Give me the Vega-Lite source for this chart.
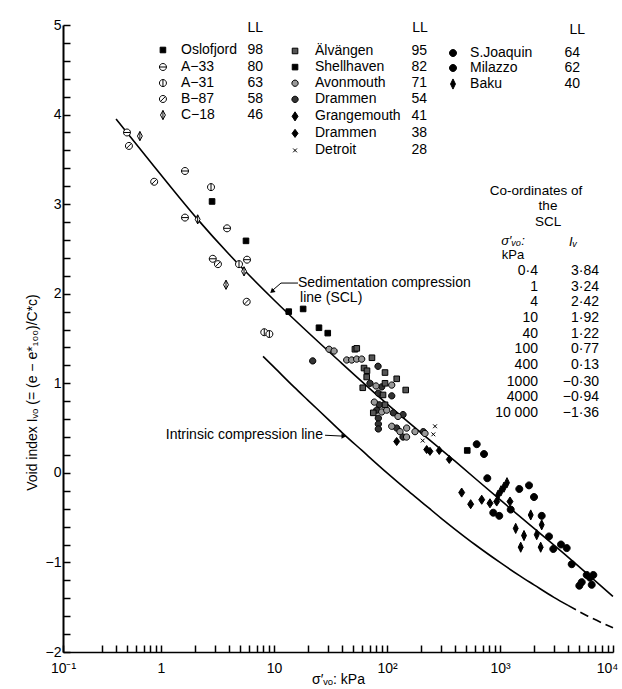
{
  "$schema": "https://vega.github.io/schema/vega-lite/v6.json",
  "width": 550,
  "height": 627,
  "autosize": "none",
  "padding": {"left": 63, "top": 25, "right": 9, "bottom": 37},
  "background": "white",
  "config": {"view": {"stroke": null}, "font": "Liberation Sans"},
  "datasets": {
    "lines": [
      {"id": "SCL", "x": 0.4, "y": 3.95}, {"id": "SCL", "x": 0.87, "y": 3.42}, {"id": "SCL", "x": 2.11, "y": 2.83},
      {"id": "SCL", "x": 4, "y": 2.44}, {"id": "SCL", "x": 10, "y": 1.93}, {"id": "SCL", "x": 40, "y": 1.22},
      {"id": "SCL", "x": 100, "y": 0.77}, {"id": "SCL", "x": 400, "y": 0.13}, {"id": "SCL", "x": 1000, "y": -0.30},
      {"id": "SCL", "x": 4000, "y": -0.94}, {"id": "SCL", "x": 10000, "y": -1.38},
      {"id": "ICL", "x": 8, "y": 1.30}, {"id": "ICL", "x": 10, "y": 1.18}, {"id": "ICL", "x": 15, "y": 0.96},
      {"id": "ICL", "x": 20, "y": 0.81}, {"id": "ICL", "x": 30, "y": 0.60}, {"id": "ICL", "x": 40, "y": 0.45},
      {"id": "ICL", "x": 60, "y": 0.25}, {"id": "ICL", "x": 100, "y": 0.0}, {"id": "ICL", "x": 150, "y": -0.19},
      {"id": "ICL", "x": 200, "y": -0.32}, {"id": "ICL", "x": 300, "y": -0.505}, {"id": "ICL", "x": 400, "y": -0.63},
      {"id": "ICL", "x": 600, "y": -0.80}, {"id": "ICL", "x": 1000, "y": -1.0}, {"id": "ICL", "x": 1500, "y": -1.15},
      {"id": "ICL", "x": 2000, "y": -1.25}, {"id": "ICL", "x": 3000, "y": -1.39}, {"id": "ICL", "x": 4000, "y": -1.48},
      {"id": "ICLd", "x": 4000, "y": -1.48}, {"id": "ICLd", "x": 6000, "y": -1.60}, {"id": "ICLd", "x": 10000, "y": -1.73}
    ],
    "lead": [
      {"g": "scl", "x": 16.3, "y": 2.119}, {"g": "scl", "x": 11.53, "y": 2.119}, {"g": "scl", "x": 9.78, "y": 2.041},
      {"g": "icl", "x": 28.3, "y": 0.42}, {"g": "icl", "x": 40.8, "y": 0.41}
    ],
    "headScl": [{"x": 9.6, "y": 2.025}],
    "headIcl": [{"x": 41.5, "y": 0.41}],
    "pts": [
      {"s": "A-33", "x": 0.50, "y": 3.80}, {"s": "A-33", "x": 1.63, "y": 3.37}, {"s": "A-33", "x": 1.63, "y": 2.85},
      {"s": "A-33", "x": 3.84, "y": 2.73}, {"s": "A-33", "x": 2.87, "y": 2.39}, {"s": "A-33", "x": 5.77, "y": 2.38},
      {"s": "C-18", "x": 0.65, "y": 3.76}, {"s": "C-18", "x": 2.11, "y": 2.83}, {"s": "C-18", "x": 5.43, "y": 2.25},
      {"s": "C-18", "x": 3.76, "y": 2.10},
      {"s": "B-87", "x": 0.52, "y": 3.65}, {"s": "B-87", "x": 0.87, "y": 3.25}, {"s": "B-87", "x": 3.19, "y": 2.33},
      {"s": "B-87", "x": 5.73, "y": 1.91},
      {"s": "A-31", "x": 2.77, "y": 3.19}, {"s": "A-31", "x": 4.90, "y": 2.33}, {"s": "A-31", "x": 8.2, "y": 1.57},
      {"s": "A-31", "x": 9.1, "y": 1.55},
      {"s": "Oslofjord", "x": 2.83, "y": 3.03}, {"s": "Oslofjord", "x": 5.65, "y": 2.59}, {"s": "Oslofjord", "x": 13.5, "y": 1.80},
      {"s": "Shellhaven", "x": 18.1, "y": 1.83}, {"s": "Shellhaven", "x": 25, "y": 1.62}, {"s": "Shellhaven", "x": 29.9, "y": 1.56},
      {"s": "Shellhaven", "x": 513, "y": 0.25},
      {"s": "Drammen54", "x": 22, "y": 1.25}, {"s": "Drammen54", "x": 83.3, "y": 1.19}, {"s": "Drammen54", "x": 70.7, "y": 1.00},
      {"s": "Drammen54", "x": 89.8, "y": 0.96}, {"s": "Drammen54", "x": 83.8, "y": 0.89}, {"s": "Drammen54", "x": 110.1, "y": 0.86},
      {"s": "Drammen54", "x": 85.5, "y": 0.76}, {"s": "Drammen54", "x": 81.1, "y": 0.70}, {"s": "Drammen54", "x": 83.8, "y": 0.61},
      {"s": "Drammen54", "x": 83.8, "y": 0.545}, {"s": "Drammen54", "x": 83.8, "y": 0.49}, {"s": "Drammen54", "x": 113.7, "y": 0.67},
      {"s": "Drammen54", "x": 138.6, "y": 0.65}, {"s": "Drammen54", "x": 121.8, "y": 0.50}, {"s": "Drammen54", "x": 138.6, "y": 0.40},
      {"s": "Drammen54", "x": 209.5, "y": 0.46},
      {"s": "Avonmouth", "x": 30.7, "y": 1.38}, {"s": "Avonmouth", "x": 34, "y": 1.36}, {"s": "Avonmouth", "x": 44, "y": 1.26},
      {"s": "Avonmouth", "x": 48.7, "y": 1.26}, {"s": "Avonmouth", "x": 53.9, "y": 1.27}, {"s": "Avonmouth", "x": 59.7, "y": 1.27},
      {"s": "Avonmouth", "x": 79.9, "y": 0.97}, {"s": "Avonmouth", "x": 110.1, "y": 0.98}, {"s": "Avonmouth", "x": 77.2, "y": 0.79},
      {"s": "Avonmouth", "x": 89.8, "y": 0.68}, {"s": "Avonmouth", "x": 99.4, "y": 0.70}, {"s": "Avonmouth", "x": 125.1, "y": 0.63},
      {"s": "Avonmouth", "x": 110.1, "y": 0.52}, {"s": "Avonmouth", "x": 130.3, "y": 0.46}, {"s": "Avonmouth", "x": 149.3, "y": 0.50},
      {"s": "Avonmouth", "x": 176.9, "y": 0.46}, {"s": "Avonmouth", "x": 216.8, "y": 0.44}, {"s": "Avonmouth", "x": 149, "y": 0.40},
      {"s": "Älvängen", "x": 52, "y": 1.38}, {"s": "Älvängen", "x": 54, "y": 1.39}, {"s": "Älvängen", "x": 73.6, "y": 1.285},
      {"s": "Älvängen", "x": 62.6, "y": 1.17}, {"s": "Älvängen", "x": 66.5, "y": 1.14}, {"s": "Älvängen", "x": 96, "y": 1.12},
      {"s": "Älvängen", "x": 121.9, "y": 1.05}, {"s": "Älvängen", "x": 146.4, "y": 0.925}, {"s": "Älvängen", "x": 66.1, "y": 1.07},
      {"s": "Älvängen", "x": 61.0, "y": 0.95}, {"s": "Älvängen", "x": 96.0, "y": 1.00}, {"s": "Älvängen", "x": 92.2, "y": 0.87},
      {"s": "Älvängen", "x": 96.0, "y": 0.76}, {"s": "Älvängen", "x": 75.6, "y": 0.67},
      {"s": "Detroit", "x": 266, "y": 0.52}, {"s": "Detroit", "x": 257, "y": 0.43}, {"s": "Detroit", "x": 207, "y": 0.36},
      {"s": "Drammen38", "x": 121.8, "y": 0.35}, {"s": "Drammen38", "x": 224.5, "y": 0.26}, {"s": "Drammen38", "x": 240, "y": 0.24},
      {"s": "Drammen38", "x": 290, "y": 0.25}, {"s": "Drammen38", "x": 355.8, "y": 0.15},
      {"s": "S.Joaquin", "x": 622, "y": 0.32}, {"s": "S.Joaquin", "x": 722, "y": 0.21}, {"s": "S.Joaquin", "x": 772, "y": -0.06},
      {"s": "S.Joaquin", "x": 1482, "y": -0.18}, {"s": "S.Joaquin", "x": 1806, "y": -0.14}, {"s": "S.Joaquin", "x": 2000, "y": -0.27},
      {"s": "Grangemouth", "x": 458, "y": -0.22}, {"s": "Grangemouth", "x": 550, "y": -0.35}, {"s": "Grangemouth", "x": 689, "y": -0.30},
      {"s": "Grangemouth", "x": 815, "y": -0.34}, {"s": "Grangemouth", "x": 935, "y": -0.32}, {"s": "Grangemouth", "x": 1226, "y": -0.32},
      {"s": "Baku", "x": 960, "y": -0.25}, {"s": "Baku", "x": 1021, "y": -0.20}, {"s": "Baku", "x": 1084, "y": -0.16},
      {"s": "Baku", "x": 1153, "y": -0.11}, {"s": "Baku", "x": 1870, "y": -0.47}, {"s": "Baku", "x": 2339, "y": -0.58},
      {"s": "Baku", "x": 1377, "y": -0.62}, {"s": "Baku", "x": 1631, "y": -0.70}, {"s": "Baku", "x": 2113, "y": -0.69},
      {"s": "Baku", "x": 1525, "y": -0.83}, {"s": "Baku", "x": 2291, "y": -0.83},
      {"s": "Milazzo", "x": 872, "y": -0.445}, {"s": "Milazzo", "x": 985, "y": -0.48}, {"s": "Milazzo", "x": 1244, "y": -0.41},
      {"s": "Milazzo", "x": 2339, "y": -0.48}, {"s": "Milazzo", "x": 2714, "y": -0.71}, {"s": "Milazzo", "x": 2963, "y": -0.85},
      {"s": "Milazzo", "x": 3466, "y": -0.80}, {"s": "Milazzo", "x": 3892, "y": -0.84}, {"s": "Milazzo", "x": 4310, "y": -1.02},
      {"s": "Milazzo", "x": 5849, "y": -1.14}, {"s": "Milazzo", "x": 6699, "y": -1.14}, {"s": "Milazzo", "x": 5286, "y": -1.22},
      {"s": "Milazzo", "x": 6480, "y": -1.25}, {"s": "Milazzo", "x": 5034, "y": -1.26}, {"s": "Milazzo", "x": 6260, "y": -1.17}
    ],
    "leg": [
      {"s": "Oslofjord", "x": 1.04, "y": 4.721}, {"s": "A-33", "x": 1.04, "y": 4.531}, {"s": "A-31", "x": 1.04, "y": 4.352},
      {"s": "B-87", "x": 1.04, "y": 4.174}, {"s": "C-18", "x": 1.04, "y": 3.995},
      {"s": "Älvängen", "x": 15.35, "y": 4.71}, {"s": "Shellhaven", "x": 15.35, "y": 4.53}, {"s": "Avonmouth", "x": 15.35, "y": 4.35},
      {"s": "Drammen54", "x": 15.35, "y": 4.17}, {"s": "Grangemouth", "x": 15.35, "y": 3.98}, {"s": "Drammen38", "x": 15.35, "y": 3.79},
      {"s": "Detroit", "x": 15.35, "y": 3.60},
      {"s": "S.Joaquin", "x": 383.7, "y": 4.687}, {"s": "Milazzo", "x": 383.7, "y": 4.52}, {"s": "Baku", "x": 383.7, "y": 4.341}
    ],
    "tl": [
      {"t": "Oslofjord", "x": 1.503, "y": 4.721}, {"t": "A−33", "x": 1.503, "y": 4.531}, {"t": "A−31", "x": 1.503, "y": 4.352},
      {"t": "B−87", "x": 1.503, "y": 4.174}, {"t": "C−18", "x": 1.503, "y": 3.995},
      {"t": "Älvängen", "x": 23.05, "y": 4.71}, {"t": "Shellhaven", "x": 23.05, "y": 4.53}, {"t": "Avonmouth", "x": 23.05, "y": 4.35},
      {"t": "Drammen", "x": 23.05, "y": 4.17}, {"t": "Grangemouth", "x": 23.05, "y": 3.98}, {"t": "Drammen", "x": 23.05, "y": 3.79},
      {"t": "Detroit", "x": 23.05, "y": 3.60},
      {"t": "S.Joaquin", "x": 543, "y": 4.687}, {"t": "Milazzo", "x": 543, "y": 4.52}, {"t": "Baku", "x": 543, "y": 4.341},
      {"t": "Sedimentation compression", "x": 16.3, "y": 2.119}, {"t": "line (SCL)", "x": 17.0, "y": 1.952}
    ],
    "tr": [
      {"t": "LL", "x": 7.99, "y": 4.966}, {"t": "98", "x": 7.99, "y": 4.721}, {"t": "80", "x": 7.99, "y": 4.531},
      {"t": "63", "x": 7.99, "y": 4.352}, {"t": "58", "x": 7.99, "y": 4.174}, {"t": "46", "x": 7.99, "y": 3.995},
      {"t": "LL", "x": 230, "y": 4.966}, {"t": "95", "x": 226, "y": 4.71}, {"t": "82", "x": 226, "y": 4.53},
      {"t": "71", "x": 226, "y": 4.35}, {"t": "54", "x": 226, "y": 4.17}, {"t": "41", "x": 226, "y": 3.98},
      {"t": "38", "x": 226, "y": 3.79}, {"t": "28", "x": 226, "y": 3.60},
      {"t": "LL", "x": 5654, "y": 4.944}, {"t": "64", "x": 5105, "y": 4.687}, {"t": "62", "x": 5105, "y": 4.52},
      {"t": "40", "x": 5105, "y": 4.341},
      {"t": "0·4", "x": 2168, "y": 2.253}, {"t": "1", "x": 2168, "y": 2.074}, {"t": "4", "x": 2168, "y": 1.907},
      {"t": "10", "x": 2168, "y": 1.728}, {"t": "40", "x": 2168, "y": 1.55}, {"t": "100", "x": 2168, "y": 1.382},
      {"t": "400", "x": 2168, "y": 1.204}, {"t": "1000", "x": 2168, "y": 1.014}, {"t": "4000", "x": 2168, "y": 0.847},
      {"t": "10 000", "x": 2168, "y": 0.669},
      {"t": "3·84", "x": 7516, "y": 2.253}, {"t": "3·24", "x": 7516, "y": 2.074}, {"t": "2·42", "x": 7516, "y": 1.907},
      {"t": "1·92", "x": 7516, "y": 1.728}, {"t": "1·22", "x": 7516, "y": 1.55}, {"t": "0·77", "x": 7516, "y": 1.382},
      {"t": "0·13", "x": 7516, "y": 1.204}, {"t": "−0·30", "x": 7516, "y": 1.014}, {"t": "−0·94", "x": 7516, "y": 0.847},
      {"t": "−1·36", "x": 7516, "y": 0.669},
      {"t": "Intrinsic compression line", "x": 27.1, "y": 0.422}
    ],
    "tc": [
      {"t": "Co-ordinates of", "x": 2083, "y": 3.150}, {"t": "the", "x": 2660, "y": 2.979},
      {"t": "SCL", "x": 2660, "y": 2.805}
    ],
    "tcs": [
      {"t": "kPa", "x": 1303, "y": 2.430}
    ],
    "ti": [
      {"t": "σ′ᵥₒ:", "x": 1303, "y": 2.590}, {"t": "Iᵥ", "x": 4426, "y": 2.580}
    ]
  },
  "encoding": {
    "x": {
      "field": "x", "type": "quantitative",
      "scale": {"type": "log", "domain": [0.1357, 10000], "nice": false},
      "axis": {
        "values": [0.1357, 0.3, 0.4, 0.5, 0.6, 0.7, 0.8, 0.9, 1, 2, 3, 4, 5, 6, 7, 8, 9, 10, 20, 30, 40, 50, 60, 70, 80, 90, 100, 200, 300, 400, 500, 600, 700, 800, 900, 1000, 2000, 3000, 4000, 5000, 6000, 7000, 8000, 9000, 10000],
        "labelExpr": "datum.value < 0.2 ? '10⁻¹' : datum.value == 1 ? '1' : datum.value == 10 ? '10' : datum.value == 100 ? '10²' : datum.value == 1000 ? '10³' : datum.value == 10000 ? '10⁴' : ''",
        "labelOffset": {"condition": {"test": "datum.value == 10000", "value": -6}, "value": 0},
        "title": "σ′ᵥₒ: kPa",
        "grid": false, "tickSize": -7, "tickColor": "black", "tickWidth": 1.5,
        "domainColor": "black", "domainWidth": 1.5,
        "labelFontSize": 14, "labelColor": "black", "labelPadding": 16, "labelOverlap": false, "labelFlush": false, "labelBound": false,
        "titleFontSize": 14, "titleFontWeight": "normal", "titleColor": "black", "titleY": 27, "titleBaseline": "middle"
      }
    },
    "y": {
      "field": "y", "type": "quantitative",
      "scale": {"domain": [-2, 5], "nice": false, "zero": false},
      "axis": {
        "values": [-2, -1.8, -1.6, -1.4, -1.2, -1, -0.8, -0.6, -0.4, -0.2, 0, 0.2, 0.4, 0.6, 0.8, 1, 1.2, 1.4, 1.6, 1.8, 2, 2.2, 2.4, 2.6, 2.8, 3, 3.2, 3.4, 3.6, 3.8, 4, 4.2, 4.4, 4.6, 4.8, 5],
        "labelExpr": "abs(datum.value - round(datum.value)) < 0.001 ? format(datum.value, 'd') : ''",
        "title": "Void index Iᵥₒ (= (e − e*₁₀₀)/C*c)",
        "grid": false, "tickSize": -7, "tickColor": "black", "tickWidth": 1.5,
        "domainColor": "black", "domainWidth": 2,
        "labelFontSize": 14, "labelColor": "black", "labelPadding": 9, "labelOverlap": false, "labelFlush": false, "labelBound": false,
        "titleFontSize": 14, "titleFontWeight": "normal", "titleColor": "black", "titleX": -31, "titleY": 367, "titleBaseline": "middle"
      }
    }
  },
  "layer": [
    {
      "data": {"name": "lines"},
      "transform": [{"filter": "datum.id != 'ICLd'"}],
      "mark": {"type": "line", "color": "black", "strokeWidth": 1.6, "interpolate": "monotone"},
      "encoding": {"detail": {"field": "id"}}
    },
    {
      "data": {"name": "lines"},
      "transform": [{"filter": "datum.id == 'ICLd'"}],
      "mark": {"type": "line", "color": "black", "strokeWidth": 1.6, "strokeDash": [9, 5], "interpolate": "monotone"},
      "encoding": {"detail": {"field": "id"}}
    },
    {
      "data": {"name": "lead"},
      "mark": {"type": "line", "color": "black", "strokeWidth": 1},
      "encoding": {"detail": {"field": "g"}}
    },
    {
      "data": {"name": "headScl"},
      "mark": {"type": "point", "shape": "triangle-up", "angle": 228, "size": 30, "filled": true, "color": "black", "opacity": 1},
      "encoding": {}
    },
    {
      "data": {"name": "headIcl"},
      "mark": {"type": "point", "shape": "triangle-right", "size": 30, "filled": true, "color": "black", "opacity": 1},
      "encoding": {}
    },
    {
      "data": {"name": "pts"},
      "mark": {"type": "point", "filled": true, "stroke": "black", "strokeWidth": 1, "size": 49, "opacity": 1},
      "encoding": {
        "shape": {"field": "s", "type": "nominal", "legend": null, "scale": {
          "domain": ["Oslofjord", "A-33", "A-31", "B-87", "C-18", "Älvängen", "Shellhaven", "Avonmouth", "Drammen54", "Grangemouth", "Drammen38", "Detroit", "S.Joaquin", "Milazzo", "Baku"],
          "range": [
            "M-0.8,-0.8H0.8V0.8H-0.8Z",
            "M-1,0A1,1,0,1,1,1,0A1,1,0,1,1,-1,0ZM-1,0L1,0",
            "M-1,0A1,1,0,1,1,1,0A1,1,0,1,1,-1,0ZM0,-1L0,1",
            "M-1,0A1,1,0,1,1,1,0A1,1,0,1,1,-1,0ZM-0.7,0.7L0.7,-0.7",
            "M0,-1.3L0.7,0L0,1.3L-0.7,0ZM0,-1.3L0,1.3",
            "M-0.8,-0.8H0.8V0.8H-0.8Z",
            "M-0.8,-0.8H0.8V0.8H-0.8Z",
            "M-0.9,0A0.9,0.9,0,1,1,0.9,0A0.9,0.9,0,1,1,-0.9,0Z",
            "M-0.9,0A0.9,0.9,0,1,1,0.9,0A0.9,0.9,0,1,1,-0.9,0Z",
            "M0,-1.3L0.85,0L0,1.3L-0.85,0Z",
            "M0,-1.15L0.85,0L0,1.15L-0.85,0Z",
            "M-0.55,-0.55L0.55,0.55M0.55,-0.55L-0.55,0.55",
            "M-1,0A1,1,0,1,1,1,0A1,1,0,1,1,-1,0Z",
            "M-1,0A1,1,0,1,1,1,0A1,1,0,1,1,-1,0Z",
            "M0,-1.45L0.7,0L0,1.45L-0.7,0Z"
          ]}},
        "fill": {"field": "s", "type": "nominal", "legend": null, "scale": {
          "domain": ["Oslofjord", "A-33", "A-31", "B-87", "C-18", "Älvängen", "Shellhaven", "Avonmouth", "Drammen54", "Grangemouth", "Drammen38", "Detroit", "S.Joaquin", "Milazzo", "Baku"],
          "range": ["#000000", "#ffffff", "#ffffff", "#ffffff", "#ffffff", "#555555", "#000000", "#999999", "#333333", "#000000", "#000000", "#000000", "#000000", "#000000", "#000000"]}}
      }
    },
    {
      "data": {"name": "leg"},
      "mark": {"type": "point", "filled": true, "stroke": "black", "strokeWidth": 1, "size": 49, "opacity": 1},
      "encoding": {
        "shape": {"field": "s", "type": "nominal", "legend": null},
        "fill": {"field": "s", "type": "nominal", "legend": null}
      }
    },
    {
      "data": {"name": "tl"},
      "mark": {"type": "text", "align": "left", "baseline": "middle", "fontSize": 14, "color": "black", "font": "Liberation Sans"},
      "encoding": {"text": {"field": "t"}}
    },
    {
      "data": {"name": "tr"},
      "mark": {"type": "text", "align": "right", "baseline": "middle", "fontSize": 14, "color": "black", "font": "Liberation Sans"},
      "encoding": {"text": {"field": "t"}}
    },
    {
      "data": {"name": "tc"},
      "mark": {"type": "text", "align": "center", "baseline": "middle", "fontSize": 13.5, "color": "black", "font": "Liberation Sans"},
      "encoding": {"text": {"field": "t"}}
    },
    {
      "data": {"name": "tcs"},
      "mark": {"type": "text", "align": "center", "baseline": "middle", "fontSize": 13, "color": "black", "font": "Liberation Sans"},
      "encoding": {"text": {"field": "t"}}
    },
    {
      "data": {"name": "ti"},
      "mark": {"type": "text", "align": "center", "baseline": "middle", "fontSize": 13, "fontStyle": "italic", "color": "black", "font": "Liberation Sans"},
      "encoding": {"text": {"field": "t"}}
    }
  ]
}
